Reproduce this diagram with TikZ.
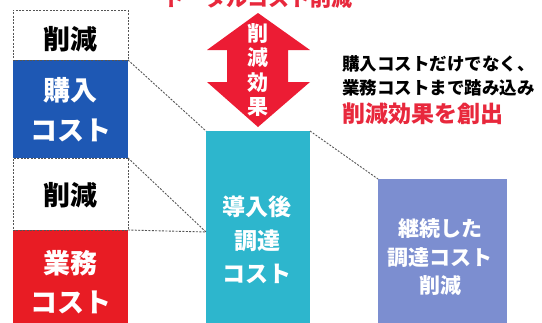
\documentclass[tikz,border=0pt]{standalone}
\usepackage{fontspec}
\setmainfont{Noto Sans CJK JP}
\definecolor{cblue}{RGB}{30,88,180}
\definecolor{cred}{RGB}{232,28,36}
\definecolor{cteal}{RGB}{45,182,205}
\definecolor{cpurple}{RGB}{124,142,208}
\definecolor{carrow}{RGB}{236,28,52}
\definecolor{ctext}{RGB}{232,40,60}
\definecolor{cdash}{RGB}{85,85,85}
\tikzset{
  box/.style={rectangle, inner sep=0pt, outer sep=0pt},
  dashbox/.style={box, draw=cdash, line width=0.9pt, dash pattern=on 2pt off 1.4pt, fill=white},
  dashline/.style={draw=cdash, line width=0.9pt, dash pattern=on 2pt off 1.4pt},
  lbl/.style={inner sep=0pt, align=center, font=\bfseries},
}
\begin{document}
\begin{tikzpicture}[x=1pt,y=-1pt]
\clip (0,0) rectangle (542,322);
\fill[white] (0,0) rectangle (542,322);
% left column
\node[box, fill=cblue, minimum width=115pt, minimum height=98pt] (buy) at (70.5,109) {};
\node[box, fill=cred, minimum width=115pt, minimum height=100pt] (ops) at (70.5,280) {};
\node[dashbox, minimum width=115pt, minimum height=50pt] (cut1) at (70.5,35) {};
\node[dashbox, minimum width=115pt, minimum height=72pt] (cut2) at (70.5,194) {};
\node[lbl, text=black, font=\bfseries\fontsize{27}{30}\selectfont] (cut1t) at (70.5,39) {削減};
\node[lbl, text=black, font=\bfseries\fontsize{27}{30}\selectfont] (cut2t) at (70.5,195) {削減};
\node[lbl, text=white, font=\bfseries\fontsize{27}{40}\selectfont] (buyt) at (71,110) {購入\\コスト};
\node[lbl, text=white, font=\bfseries\fontsize{27}{39}\selectfont] (opst) at (71,282.5) {業務\\コスト};
% middle and right boxes
\node[box, fill=cteal, minimum width=104pt, minimum height=200pt] (mid) at (258,231) {};
\node[box, fill=cpurple, minimum width=129pt, minimum height=160pt] (plan) at (442.5,259) {};
\node[lbl, text=white, font=\bfseries\fontsize{23}{33.5}\selectfont] (midt) at (257,240) {導入後\\調達\\コスト};
\node[lbl, text=white, font=\bfseries\fontsize{21}{28.5}\selectfont] (plant) at (440,257) {継続した\\調達コスト\\削減};
% connectors
\coordinate (meet) at ([yshift=-101pt]mid.north west);
\draw[dashline] (buy.north east) -- (mid.north west);
\draw[dashline] (cut2.north east) -- (meet);
\draw[dashline] (cut2.south east) -- (meet);
\draw[dashline] (mid.north east) -- (plan.north west);
% double arrow
\fill[carrow] (258,13) -- (310,50) -- (288,50) -- (288,82) -- (310,82) -- (258,127)
  -- (207,82) -- (227,82) -- (227,50) -- (207,50) -- cycle;
\node[lbl, text=white, font=\bfseries\fontsize{21}{24.5}\selectfont] (arrt) at (258,70) {削\\減\\効\\果};
% title
\node[lbl, text=ctext, font=\bfseries\fontsize{21}{24}\selectfont] (title) at (258,-2) {トータルコスト削減};
% right text
\node[lbl, anchor=west, text=black, font=\bfseries\fontsize{17.5}{23}\selectfont] (r1) at (342,64) {購入コストだけでなく、};
\node[lbl, anchor=west, text=black, font=\bfseries\fontsize{17.5}{23}\selectfont] (r2) at (342,87.5) {業務コストまで踏み込み};
\node[lbl, anchor=west, text=ctext, font=\bfseries\fontsize{23}{26}\selectfont] (r3) at (342,114) {削減効果を創出};
\end{tikzpicture}
\end{document}
